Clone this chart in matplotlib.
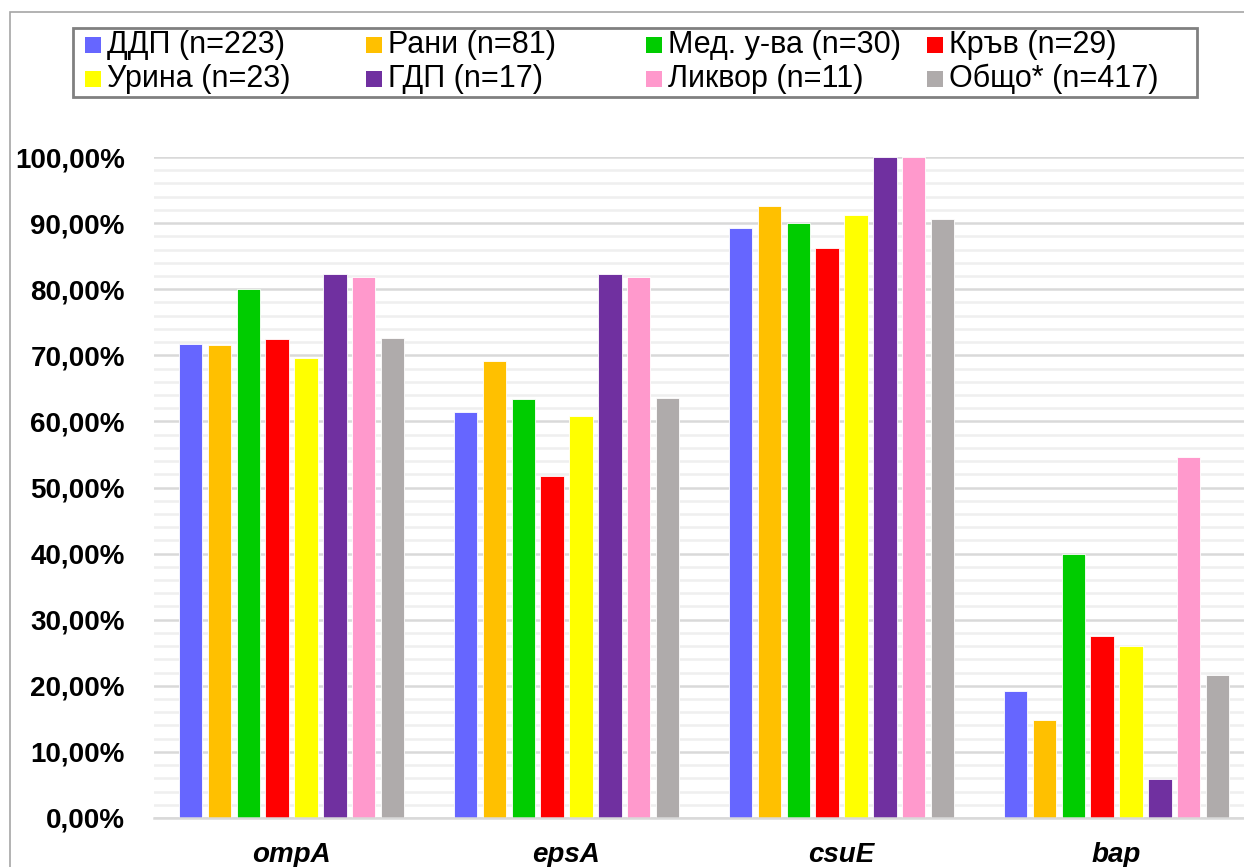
import matplotlib.pyplot as plt
from matplotlib.patches import Rectangle
from matplotlib.ticker import MultipleLocator, FuncFormatter

plt.rcParams['font.family'] = ['Liberation Sans', 'DejaVu Sans']

genes = ['ompA', 'epsA', 'csuE', 'bap']
groups = ['ДДП (n=223)', 'Рани (n=81)', 'Мед. у-ва (n=30)', 'Кръв (n=29)',
          'Урина (n=23)', 'ГДП (n=17)', 'Ликвор (n=11)', 'Общо* (n=417)']
colors = ['#6666FF', '#FFC000', '#00CC00', '#FF0000',
          '#FFFF00', '#7030A0', '#FF99CC', '#AFABAB']

# percentage of positive isolates per gene, one list per group
ddp = [71.75, 61.43, 89.24, 19.28]
rani = [71.60, 69.14, 92.59, 14.81]
med = [80.00, 63.33, 90.00, 40.00]
krav = [72.41, 51.72, 86.21, 27.59]
urina = [69.57, 60.87, 91.30, 26.09]
gdp = [82.35, 82.35, 100.00, 5.88]
likvor = [81.82, 81.82, 100.00, 54.55]
obshto = [72.66, 63.55, 90.65, 21.58]
values = [ddp, rani, med, krav, urina, gdp, likvor, obshto]

W, H = 1244, 867
fig = plt.figure(figsize=(W / 100, H / 100), dpi=100)


def fx(px):
    return px / W


def fy(py):
    return 1 - py / H


# outer chart frame
fig.patches.append(Rectangle((fx(10), fy(H + 20)), fx(W + 20), fy(12) - fy(H + 20),
                             transform=fig.transFigure, fill=False,
                             edgecolor='#A6A6A6', lw=1.2))

ax = fig.add_axes([fx(154), fy(818), fx(1100), fy(157) - fy(818)])

step, width = 0.105, 0.085
for i, (vals, col) in enumerate(zip(values, colors)):
    xs = [g + (i - 3.5) * step for g in range(len(genes))]
    ax.bar(xs, vals, width=width, color=col, edgecolor='white', lw=0.6, zorder=3)

ax.set_xlim(-0.5, 3.5)
ax.set_ylim(0, 100)
ax.yaxis.set_major_locator(MultipleLocator(10))
ax.yaxis.set_minor_locator(MultipleLocator(2))
ax.yaxis.set_major_formatter(FuncFormatter(lambda v, p: f'{v:.2f}%'.replace('.', ',')))
ax.grid(axis='y', which='minor', color='#EFEFEF', lw=1.8, zorder=0)
ax.grid(axis='y', which='major', color='#D9D9D9', lw=1.8, zorder=1)
ax.set_axisbelow(True)

ax.set_xticks(range(len(genes)))
ax.set_xticklabels(genes, fontsize=20, fontweight='bold', fontstyle='italic')
ax.tick_params(axis='x', length=0, pad=17)
ax.tick_params(axis='y', which='both', length=0, pad=21)
for lab in ax.get_yticklabels():
    lab.set_fontsize(20)
    lab.set_fontweight('bold')

for side in ['left', 'right', 'top']:
    ax.spines[side].set_visible(False)
ax.spines['bottom'].set_color('#D9D9D9')
ax.spines['bottom'].set_linewidth(1.8)
ax.spines['bottom'].set_zorder(4)

# legend box, two rows of four columns
fig.patches.append(Rectangle((fx(73), fy(97)), fx(1197 - 73), fy(28) - fy(97),
                             transform=fig.transFigure, fill=False,
                             edgecolor='#808080', lw=2))
col_x = [85, 366, 646, 927]
row_y = [45, 79]
for k, (lab, col) in enumerate(zip(groups, colors)):
    x0 = col_x[k % 4]
    y0 = row_y[k // 4]
    fig.patches.append(Rectangle((fx(x0), fy(y0 + 8)), fx(16), fy(y0 - 8) - fy(y0 + 8),
                                 transform=fig.transFigure, color=col, lw=0))
    fig.text(fx(x0 + 22), fy(y0), lab, fontsize=22, va='center', ha='left')

fig.savefig('out.png', dpi=100)
